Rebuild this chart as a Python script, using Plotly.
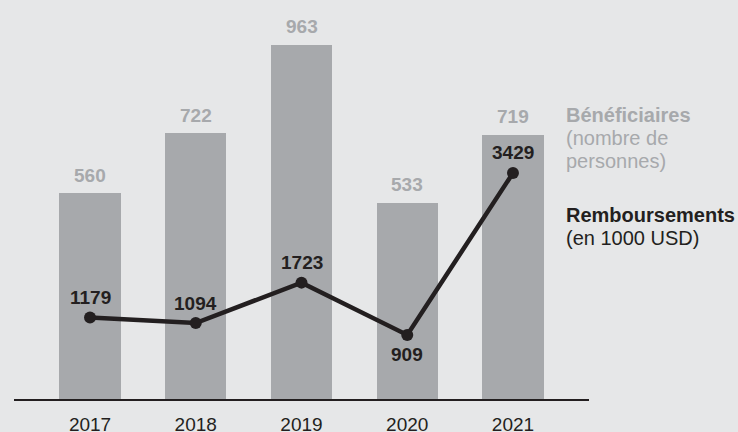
import plotly.graph_objects as go

years = ["2017", "2018", "2019", "2020", "2021"]
beneficiaires = [560, 722, 963, 533, 719]
remboursements = [1179, 1094, 1723, 909, 3429]
line_label_side = [1, 1, 1, -1, 1]  # above (+1) or below (-1) the point

BG = "#e6e7e8"
BAR = "#a7a9ac"
DARK = "#231f20"
FONT = "Liberation Sans, Arial, Helvetica, sans-serif"

fig = go.Figure()
fig.add_trace(go.Bar(x=years, y=beneficiaires, marker=dict(color=BAR, line=dict(width=0)),
                     width=0.58, yaxis="y", hoverinfo="skip"))
fig.add_trace(go.Scatter(x=years, y=remboursements, yaxis="y2", mode="lines+markers",
                         line=dict(color=DARK, width=4.5), marker=dict(color=DARK, size=12),
                         hoverinfo="skip"))

ann = []
for i, v in enumerate(beneficiaires):
    ann.append(dict(x=i, y=v, xref="x", yref="y", text=f"<b>{v}</b>", showarrow=False,
                    yanchor="middle", yshift=18, font=dict(size=19, color=BAR, family=FONT)))
for i, (v, s) in enumerate(zip(remboursements, line_label_side)):
    ann.append(dict(x=i, y=v, xref="x", yref="y2", text=f"<b>{v}</b>", showarrow=False,
                    yanchor="middle", yshift=20 * s, font=dict(size=19, color=DARK, family=FONT)))

legend_lines = [
    ("<b>Bénéficiaires</b>", BAR, 115),
    ("(nombre de", BAR, 138),
    ("personnes)", BAR, 161),
    ("<b>Remboursements</b>", DARK, 215),
    ("(en 1000 USD)", DARK, 238),
]
for txt, col, py in legend_lines:
    ann.append(dict(x=(564 - 14) / 575, y=(399 - py) / 399, xref="paper", yref="paper",
                    text=txt, showarrow=False, xanchor="left", yanchor="middle",
                    font=dict(size=20, color=col, family=FONT)))

fig.update_layout(
    width=738, height=432,
    margin=dict(l=14, r=149, t=0, b=33, autoexpand=False),
    paper_bgcolor=BG, plot_bgcolor=BG,
    showlegend=False,
    bargap=0,
    font=dict(family=FONT, color=DARK),
    xaxis=dict(type="category", range=[-0.719, 4.719], showgrid=False, zeroline=False,
               showline=True, linecolor=DARK, linewidth=2.3, ticks="", automargin=False,
               tickfont=dict(size=19, color=DARK, family=FONT), ticklabelstandoff=7),
    yaxis=dict(range=[0, 1085], visible=False, showgrid=False, zeroline=False),
    yaxis2=dict(range=[-87, 6119], overlaying="y", visible=False, showgrid=False, zeroline=False),
    annotations=ann,
)

fig.write_html("out.html", config={"displayModeBar": False, "staticPlot": True},
               post_script="document.body.style.margin='0';document.body.style.overflow='hidden';"
                           "document.body.style.background='#e6e7e8';")
